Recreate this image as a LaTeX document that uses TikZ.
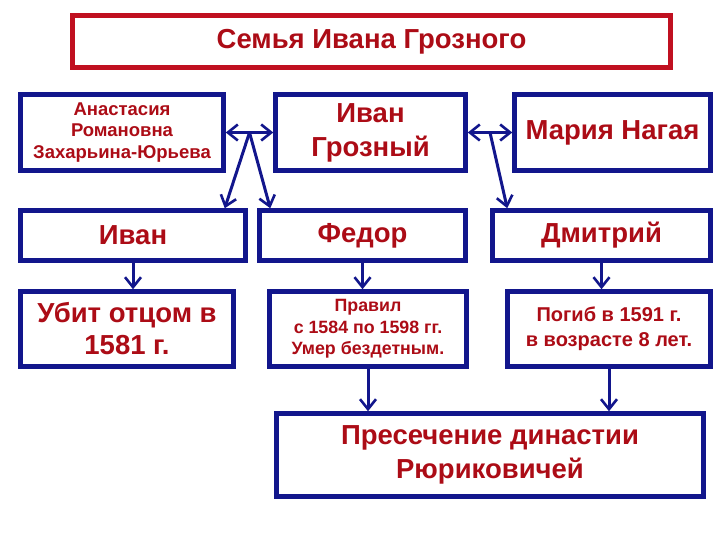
\documentclass[tikz,border=0pt]{standalone}
\usepackage{fontspec}
\setmainfont{Liberation Sans}
\usetikzlibrary{positioning, arrows.meta, calc}
\definecolor{boxblue}{RGB}{18,22,140}
\definecolor{textred}{RGB}{172,12,22}
\definecolor{titlered}{RGB}{192,16,32}

\begin{document}
\begin{tikzpicture}[
  x=1pt, y=-1pt,
  >={Straight Barb[length=10pt, width=16pt, line width=2.6pt]},
  every node/.style={font=\bfseries, text=textred, align=center, inner sep=2pt},
  box/.style    = {draw=boxblue, line width=4.5pt, fill=white},
  titlebox/.style = {draw=titlered, line width=4.5pt, fill=white, font=\bfseries\fontsize{27.5}{30}\selectfont},
  big/.style    = {box, font=\bfseries\fontsize{27.5}{34}\selectfont},
  small/.style  = {box, font=\bfseries\fontsize{18.5}{21.5}\selectfont},
  arr/.style    = {->, line width=3pt, boxblue},
  arrboth/.style = {<->, line width=3pt, boxblue},
]
  \useasboundingbox (0,0) rectangle (720,540);
  % title
  \node[titlebox, minimum width=598, minimum height=52] (title) at (371.5,41.5) {Семья Ивана Грозного};
  % parents
  \node[small, minimum width=203, minimum height=76] (anast) at (122,132.5) {Анастасия\\Романовна\\Захарьина-Юрьева};
  \node[big, minimum width=190, minimum height=76] (ivang) at (370.5,132.5) {Иван\\Грозный};
  \node[big, minimum width=196, minimum height=76] (maria) at (612.5,132.5) {Мария Нагая};
  % sons
  \node[big, minimum width=225, minimum height=50] (ivan)   at (133,235.5)   {Иван};
  \node[big, minimum width=206, minimum height=50] (fedor)  at (362.5,235.5) {Федор};
  \node[big, minimum width=218, minimum height=50] (dmitry) at (601.5,235.5) {Дмитрий};
  % fates
  \node[big, minimum width=213, minimum height=75, font=\bfseries\fontsize{27.5}{32}\selectfont] (ubit) at (127,329) {Убит отцом в\\1581 г.};
  \node[small, minimum width=197, minimum height=75, font=\bfseries\fontsize{17.8}{21.5}\selectfont] (pravil) at (368,329) {Правил\\с 1584 по 1598 гг.\\Умер бездетным.};
  \node[small, minimum width=203, minimum height=75, font=\bfseries\fontsize{20}{25}\selectfont] (pogib) at (609,329) {Погиб в 1591 г.\\в возрасте 8 лет.};
  \node[big, minimum width=427, minimum height=83] (final) at (490,455) {Пресечение династии\\Рюриковичей};

  % marriages
  \coordinate (m1) at ($(anast.east)!0.5!(ivang.west)$);
  \coordinate (m2) at ($(ivang.east)!0.5!(maria.west)$);
  \draw[arrboth] (anast.east) -- (ivang.west);
  \draw[arrboth] (ivang.east) -- (maria.west);
  \draw[arr] (m1) -- ($(ivan.north east)+(-23,0)$);
  \draw[arr] (m1) -- ($(fedor.north west)+(13,0)$);
  \draw[arr] (m2) -- ($(dmitry.north west)+(17,0)$);
  % down arrows
  \foreach \a/\b in {ivan/ubit, fedor/pravil, dmitry/pogib, pravil/final, pogib/final}
     \draw[arr] (\a.south) -- (\a.south |- \b.north);
\end{tikzpicture}
\end{document}
